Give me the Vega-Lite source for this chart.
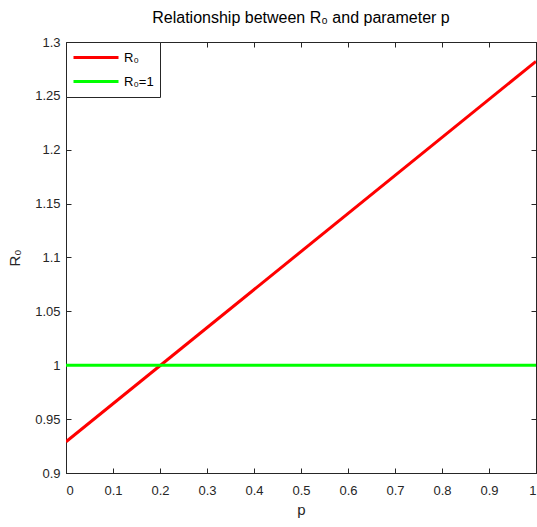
{
  "$schema": "https://vega.github.io/schema/vega-lite/v6.json",
  "width": 470,
  "height": 431,
  "autosize": {"type": "none"},
  "padding": {"left": 66, "top": 42, "right": 1, "bottom": 54},
  "background": "white",
  "config": {
    "font": "Liberation Sans",
    "view": {"stroke": "#262626", "strokeWidth": 1},
    "axis": {
      "domainColor": "#262626",
      "tickColor": "#262626",
      "labelColor": "#262626",
      "titleColor": "#262626",
      "labelFont": "Liberation Sans",
      "titleFont": "Liberation Sans",
      "labelFontSize": 13,
      "titleFontSize": 15,
      "titleFontWeight": "normal",
      "grid": false,
      "tickSize": -5
    }
  },
  "title": {
    "text": "Relationship between R₀ and parameter p",
    "font": "Liberation Sans",
    "fontSize": 16,
    "fontWeight": "normal",
    "color": "#000000",
    "offset": 10
  },
  "data": {
    "values": [
      {"p": 0, "R": 0.929, "series": "R₀"},
      {"p": 1, "R": 1.282, "series": "R₀"},
      {"p": 0, "R": 1, "series": "R₀=1"},
      {"p": 1, "R": 1, "series": "R₀=1"}
    ]
  },
  "layer": [
    {
      "mark": {"type": "line", "strokeWidth": 3, "clip": true},
      "encoding": {
        "x": {
          "field": "p", "type": "quantitative",
          "scale": {"domain": [0, 1], "nice": false},
          "axis": {"orient": "bottom", "values": [0,0.1,0.2,0.3,0.4,0.5,0.6,0.7,0.8,0.9,1], "format": ".1~f", "title": "p", "labelPadding": 16, "titlePadding": 5}
        },
        "y": {
          "field": "R", "type": "quantitative",
          "scale": {"domain": [0.9, 1.3], "nice": false, "zero": false},
          "axis": {"orient": "left", "values": [0.9,0.95,1,1.05,1.1,1.15,1.2,1.25,1.3], "format": ".2~f", "title": "R₀", "labelPadding": 11, "titlePadding": 12}
        },
        "color": {
          "field": "series", "type": "nominal",
          "scale": {"domain": ["R₀", "R₀=1"], "range": ["#FF0000", "#00FF00"]},
          "legend": {
            "orient": "top-left",
            "offset": 0,
            "title": null,
            "fillColor": "white",
            "strokeColor": "#262626",
            "padding": 6,
            "symbolType": "stroke",
            "symbolSize": 2025,
            "symbolStrokeWidth": 3,
            "clipHeight": 19,
            "rowPadding": 5,
            "labelFontSize": 13,
            "labelFont": "Liberation Sans",
            "labelColor": "#000000",
            "labelOffset": 4
          }
        }
      }
    },
    {
      "mark": {"type": "point", "opacity": 0},
      "encoding": {
        "x": {
          "field": "p", "type": "quantitative",
          "axis": {"orient": "top", "values": [0,0.1,0.2,0.3,0.4,0.5,0.6,0.7,0.8,0.9,1], "labels": false, "title": null}
        },
        "y": {
          "field": "R", "type": "quantitative",
          "axis": {"orient": "right", "values": [0.9,0.95,1,1.05,1.1,1.15,1.2,1.25,1.3], "labels": false, "title": null}
        }
      }
    }
  ],
  "resolve": {"axis": {"x": "independent", "y": "independent"}}
}
